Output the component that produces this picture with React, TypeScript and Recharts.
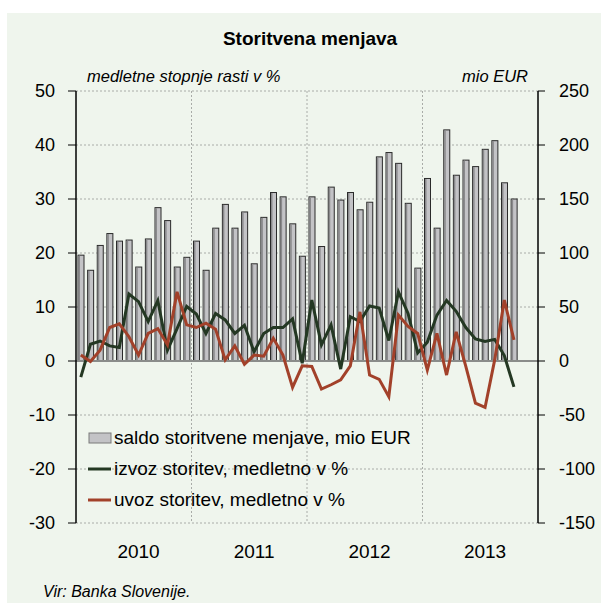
import React from "react";
import {
  ComposedChart,
  Bar,
  Line,
  XAxis,
  YAxis,
  CartesianGrid,
  ReferenceLine,
  Legend,
} from "recharts";

const years = ["2010", "2011", "2012", "2013"];
const monthNames = ["jan", "feb", "mar", "apr", "maj", "jun", "jul", "avg", "sep", "okt", "nov", "dec"];
const months = years.flatMap((y) => monthNames.map((m) => `${m} ${y}`));

// saldo storitvene menjave, mio EUR (desna os)
const saldo = [
  98, 84, 107, 118, 111, 112, 87, 113, 142, 130, 87, 96,
  111, 84, 123, 145, 123, 138, 90, 133, 156, 152, 127, 97,
  152, 106, 161, 149, 156, 140, 147, 189, 193, 183, 146, 86,
  169, 123, 214, 172, 186, 180, 196, 204, 165, 150,
];

// izvoz storitev, medletno v %
const izvoz = [
  -3.0, 3.1, 3.7, 2.8, 2.5, 12.4, 11.0, 7.3, 11.2, 2.0, 6.0, 10.1,
  8.7, 5.1, 8.8, 7.6, 5.1, 6.6, 1.7, 5.1, 6.2, 6.2, 7.8, -0.4,
  11.3, 3.0, 6.7, -1.5, 8.2, 7.3, 10.2, 9.8, 3.8, 12.8, 8.8, 1.5,
  3.5, 8.5, 11.2, 9.2, 6.2, 4.1, 3.6, 4.0, 1.0, -4.8,
];

// uvoz storitev, medletno v %
const uvoz = [
  1.1, -0.1, 2.0, 6.2, 6.9, 4.5, 1.1, 5.1, 6.0, 3.0, 12.8, 6.7,
  6.2, 7.0, 5.9, 0.2, 2.8, -0.6, 1.1, 0.9, 4.2, 1.1, -4.9, -0.9,
  -1.0, -5.2, -4.4, -3.5, -0.9, 9.1, -2.6, -3.4, -6.6, 8.5, 6.4, 5.1,
  -1.7, 5.1, -2.6, 5.4, -1.0, -7.8, -8.6, 0.2, 11.3, 3.9,
];

const leftTicks = [-30, -20, -10, 0, 10, 20, 30, 40, 50];
const rightTicks = [-150, -100, -50, 0, 50, 100, 150, 200, 250];
const yearTicks = years.map((y) => `jul ${y}`);

const series = [
  { key: "saldo", name: "saldo storitvene menjave, mio EUR", color: "#c3c3c6" },
  { key: "izvoz", name: "izvoz storitev, medletno v %", color: "#243823" },
  { key: "uvoz", name: "uvoz storitev, medletno v %", color: "#a2412a" },
];

const data = months.map((month, i) => ({
  month,
  saldo: saldo[i] ?? null,
  izvoz: izvoz[i] ?? null,
  uvoz: uvoz[i] ?? null,
}));

const FONT = "'Liberation Sans', Arial, sans-serif";
const BG = "#eff5ed";

const SaldoBar = (props: any) => {
  const { x, y, width, height } = props;
  if (!height || height <= 0) return null;
  return (
    <g>
      <rect x={x} y={y} width={width} height={height} fill="#c3c3c6" stroke="#2a2a2a" strokeWidth={1} />
      <rect x={x + 0.5} y={y + 0.5} width={1.5} height={height - 1} fill="#8a8a8c" />
    </g>
  );
};

const LegendContent = (props: any) => {
  const payload = [...(props.payload || [])].sort(
    (a: any, b: any) =>
      series.findIndex((s) => s.name === a.value) - series.findIndex((s) => s.name === b.value)
  );
  return (
    <div style={{ fontFamily: FONT, fontSize: 19, color: "#000" }}>
      {payload.map((p: any) => (
        <div key={p.value} style={{ display: "flex", alignItems: "center", height: 31 }}>
          <svg width={25} height={14} style={{ marginRight: 1 }}>
            {p.value === series[0].name ? (
              <rect x={1} y={2} width={22} height={10} fill="#c3c3c6" stroke="#7a7a7a" strokeWidth={1} />
            ) : (
              <line x1={0} y1={7} x2={23} y2={7} stroke={p.color} strokeWidth={3} />
            )}
          </svg>
          <span>{p.value}</span>
        </div>
      ))}
    </div>
  );
};

export default function App() {
  return (
    <div style={{ position: "absolute", left: 0, top: 0, width: 601, height: 603, background: "#fff", overflow: "hidden" }}>
      <div style={{ position: "absolute", left: 7, top: 13, right: 0, bottom: 0, background: BG }} />
      <div style={{ position: "absolute", left: 0, top: 0 }}>
        <ComposedChart
          width={601}
          height={603}
          data={data}
          margin={{ top: 91, right: 0, bottom: 0, left: 0 }}
          barCategoryGap={0}
        >
          <CartesianGrid
            yAxisId="left"
            stroke="#a9aca8"
            strokeDasharray="2 2"
            verticalCoordinatesGenerator={(p: any) => {
              const o = p.offset || { left: 76, width: 462 };
              return [12, 24, 36].map((i) => o.left + (o.width * i) / months.length);
            }}
          />
          <XAxis
            dataKey="month"
            ticks={yearTicks}
            tickFormatter={(v: string) => v.split(" ")[1]}
            height={80}
            tickLine={false}
            axisLine={false}
            interval={0}
            tickMargin={16}
            tick={{ fontSize: 19, fill: "#000", fontFamily: FONT }}
          />
          <YAxis
            yAxisId="left"
            domain={[-30, 50]}
            ticks={leftTicks}
            width={76}
            tickSize={8}
            tickMargin={13}
            axisLine={{ stroke: "#000", strokeWidth: 1.5 }}
            tickLine={{ stroke: "#000" }}
            tick={{ fontSize: 18, fill: "#000", fontFamily: FONT }}
            allowDataOverflow
          />
          <YAxis
            yAxisId="right"
            orientation="right"
            domain={[-150, 250]}
            ticks={rightTicks}
            width={63}
            tickSize={7}
            tickMargin={14}
            axisLine={{ stroke: "#000", strokeWidth: 1.5 }}
            tickLine={{ stroke: "#000" }}
            tick={{ fontSize: 18, fill: "#000", fontFamily: FONT }}
            allowDataOverflow
          />
          <Bar
            yAxisId="right"
            dataKey="saldo"
            name={series[0].name}
            fill={series[0].color}
            barSize={6}
            shape={<SaldoBar />}
            isAnimationActive={false}
          />
          <ReferenceLine yAxisId="left" y={0} stroke="#8a8c8a" strokeWidth={2} />
          <Line
            yAxisId="left"
            type="linear"
            dataKey="izvoz"
            name={series[1].name}
            stroke={series[1].color}
            strokeWidth={3}
            dot={false}
            isAnimationActive={false}
          />
          <Line
            yAxisId="left"
            type="linear"
            dataKey="uvoz"
            name={series[2].name}
            stroke={series[2].color}
            strokeWidth={3}
            dot={false}
            isAnimationActive={false}
          />
          <Legend
            layout="vertical"
            align="center"
            verticalAlign="middle"
            content={<LegendContent />}
            wrapperStyle={{ position: "absolute", left: 88, top: 422, width: 420, bottom: "auto", right: "auto" }}
          />
        </ComposedChart>
      </div>
      <svg width={601} height={603} style={{ position: "absolute", left: 0, top: 0, pointerEvents: "none" }}>
        <text x={310} y={45} textAnchor="middle" fontFamily={FONT} fontWeight="bold" fontSize={19}>
          Storitvena menjava
        </text>
        <text x={87} y={82} fontFamily={FONT} fontStyle="italic" fontSize={16.5}>
          medletne stopnje rasti v %
        </text>
        <text x={528} y={82} textAnchor="end" fontFamily={FONT} fontStyle="italic" fontSize={16.5}>
          mio EUR
        </text>
        <text x={43} y={597} fontFamily={FONT} fontStyle="italic" fontSize={16}>
          Vir: Banka Slovenije.
        </text>
      </svg>
    </div>
  );
}
